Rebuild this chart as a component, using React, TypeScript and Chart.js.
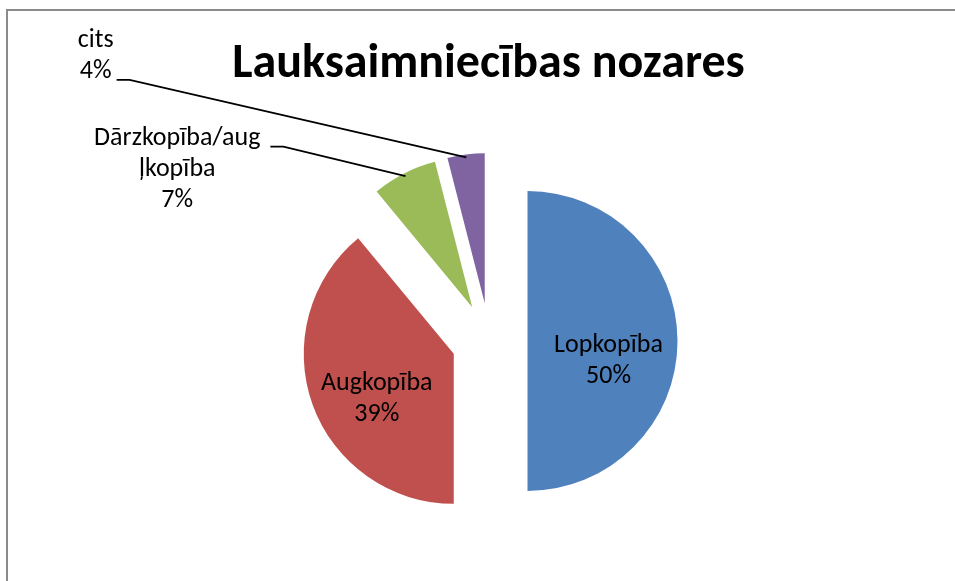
import React, { useEffect, useRef } from 'react';
import { Chart, registerables } from 'chart.js';

Chart.register(...registerables);

// ---- data ----
const TITLE = 'Lauksaimniecības nozares';
const CATEGORIES = ['Lopkopība', 'Augkopība', 'Dārzkopība/augļkopība', 'cits'];
const LABEL_LINES = [['Lopkopība'], ['Augkopība'], ['Dārzkopība/aug', 'ļkopība'], ['cits']];
const VALUES = [50, 39, 7, 4];
const COLORS = ['#4F81BD', '#C0504D', '#9BBB59', '#8064A2'];

// ---- layout / style ----
const FONT = 'Carlito, Calibri, Lato, sans-serif';
const TITLE_SIZE = 48;
const TITLE_X = 488.5;
const TITLE_Y = 77;
const LABEL_SIZE = 26;
const LINE_H = 31;
const EXPLODE = 38;
const RADIUS = 150;
// label anchor relative to each exploded slice apex (first-line baseline, centered)
const LABEL_OFFSETS = [
  { dx: 81, dy: 10.7 },
  { dx: -77, dy: 36 },
  { dx: -295, dy: -162 },
  { dx: -389, dy: -256 },
];
const LEADERS: ({ line: number; gap: number } | null)[] = [null, null, { line: 0, gap: 10 }, { line: 1, gap: 5 }];

const explodePlugin = {
  id: 'explodeAndLabels',
  beforeDatasetsDraw(chart: any) {
    const ctx = chart.ctx;
    const meta = chart.getDatasetMeta(0);
    meta.data.forEach((arc: any) => {
      const mid = (arc.startAngle + arc.endAngle) / 2;
      ctx.save();
      ctx.translate(Math.cos(mid) * EXPLODE, Math.sin(mid) * EXPLODE);
      arc.draw(ctx);
      ctx.restore();
    });
    return false;
  },
  afterDraw(chart: any) {
    const ctx = chart.ctx;
    const meta = chart.getDatasetMeta(0);
    const total = VALUES.reduce((a, b) => a + b, 0);
    ctx.save();
    ctx.fillStyle = '#000';
    ctx.textAlign = 'center';
    ctx.textBaseline = 'alphabetic';
    ctx.font = `bold ${TITLE_SIZE}px ${FONT}`;
    ctx.fillText(TITLE, TITLE_X, TITLE_Y);
    ctx.font = `${LABEL_SIZE}px ${FONT}`;
    ctx.strokeStyle = '#000';
    ctx.lineWidth = 1.8;
    meta.data.forEach((arc: any, i: number) => {
      const mid = (arc.startAngle + arc.endAngle) / 2;
      const ax = arc.x + Math.cos(mid) * EXPLODE;
      const ay = arc.y + Math.sin(mid) * EXPLODE;
      const lines = [...LABEL_LINES[i], Math.round((VALUES[i] / total) * 100) + '%'];
      const lx = ax + LABEL_OFFSETS[i].dx;
      const ly = ay + LABEL_OFFSETS[i].dy;
      lines.forEach((t, k) => ctx.fillText(t, lx, ly + k * LINE_H));
      const ld = LEADERS[i];
      if (ld) {
        const w = ctx.measureText(lines[ld.line]).width;
        const sx = lx + w / 2 + ld.gap;
        const sy = ly + ld.line * LINE_H + 1.5;
        const ex = ax + Math.cos(mid) * (arc.outerRadius - 3);
        const ey = ay + Math.sin(mid) * (arc.outerRadius - 3);
        ctx.beginPath();
        ctx.moveTo(sx, sy);
        ctx.lineTo(sx + 13, sy);
        ctx.lineTo(ex, ey);
        ctx.stroke();
      }
    });
    ctx.restore();
  },
};

export default function App() {
  const ref = useRef<HTMLCanvasElement>(null);
  useEffect(() => {
    if (!ref.current) return;
    const chart = new Chart(ref.current, {
      type: 'pie',
      data: {
        labels: CATEGORIES,
        datasets: [
          {
            data: VALUES,
            backgroundColor: COLORS,
            borderWidth: 0,
          },
        ],
      },
      options: {
        responsive: false,
        animation: false,
        devicePixelRatio: 1,
        events: [],
        radius: RADIUS,
        layout: { padding: { left: 40, right: 16, top: 110, bottom: 9 } },
        plugins: {
          legend: { display: false },
          tooltip: { enabled: false },
          title: { display: false },
        },
      } as any,
      plugins: [explodePlugin],
    });
    return () => chart.destroy();
  }, []);
  return (
    <div style={{ position: 'fixed', left: 0, top: 0, width: 955, height: 581, overflow: 'hidden', background: '#fff' }}>
      <div
        style={{
          position: 'absolute',
          left: 6,
          top: 9,
          width: 1200,
          height: 800,
          borderLeft: '2px solid #8a8a8a',
          borderTop: '2px solid #8a8a8a',
        }}
      />
      <canvas ref={ref} width={955} height={581} style={{ position: 'absolute', left: 0, top: 0 }} />
    </div>
  );
}
